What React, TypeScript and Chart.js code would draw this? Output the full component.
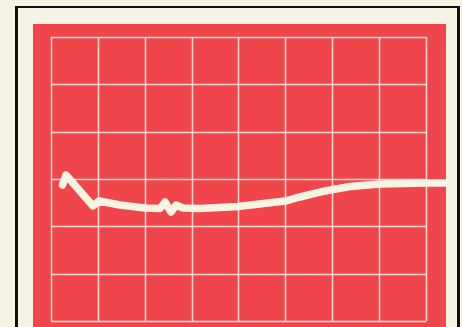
import React, { useEffect, useRef } from "react";
import { Chart, registerables } from "chart.js";

Chart.register(...registerables);

// Trace samples (x in grid divisions, y in grid divisions from bottom)
const traceX = [0.245, 0.32, 0.896, 1.024, 1.472, 2.005, 2.325, 2.432, 2.56, 2.667, 2.816, 3.179, 3.989, 4.992, 5.312, 5.845, 6.379, 7.019, 8.0, 8.427];
const traceY = [2.873, 3.085, 2.43, 2.535, 2.451, 2.387, 2.377, 2.514, 2.303, 2.451, 2.387, 2.377, 2.419, 2.535, 2.62, 2.747, 2.842, 2.895, 2.916, 2.916];

// Graticule: 8 horizontal divisions, 6 vertical divisions
const xDivisions = [0, 1, 2, 3, 4, 5, 6, 7, 8];
const yDivisions = [0, 1, 2, 3, 4, 5, 6];

// Visible screen extent (in divisions)
const xRange = [-0.384, 8.427];
const yRange = [-0.127, 6.275];

const RED = "#f0464b";
const CREAM = "#f6f3e4";
const GRID = "rgba(250,232,222,0.92)";

const screenBg = {
  id: "screenBg",
  beforeDraw(chart: any) {
    const { ctx, chartArea } = chart;
    ctx.save();
    ctx.fillStyle = RED;
    ctx.fillRect(chartArea.left, chartArea.top, chartArea.right - chartArea.left, chartArea.bottom - chartArea.top + 10);
    ctx.restore();
  },
  beforeDatasetsDraw(chart: any) {
    const { ctx } = chart;
    const xs = chart.scales.x;
    const ys = chart.scales.y;
    const x0 = xs.getPixelForValue(xDivisions[0]);
    const x1 = xs.getPixelForValue(xDivisions[xDivisions.length - 1]);
    const y0 = ys.getPixelForValue(yDivisions[0]);
    const y1 = ys.getPixelForValue(yDivisions[yDivisions.length - 1]);
    ctx.save();
    ctx.strokeStyle = GRID;
    ctx.lineWidth = 1.5;
    ctx.beginPath();
    xDivisions.forEach((v) => {
      const p = Math.round(xs.getPixelForValue(v)) + 0.5;
      ctx.moveTo(p, y1);
      ctx.lineTo(p, y0);
    });
    yDivisions.forEach((v) => {
      const p = Math.round(ys.getPixelForValue(v)) + 0.5;
      ctx.moveTo(x0, p);
      ctx.lineTo(x1, p);
    });
    ctx.stroke();
    ctx.restore();
  },
};

export default function App() {
  const ref = useRef<HTMLCanvasElement | null>(null);
  useEffect(() => {
    if (!ref.current) return;
    const chart = new Chart(ref.current, {
      type: "line",
      data: {
        datasets: [
          {
            data: traceX.map((x, i) => ({ x, y: traceY[i] })),
            borderColor: "#f8f4e3",
            borderWidth: 7.5,
            pointRadius: 0,
            tension: 0,
            borderJoinStyle: "round",
            borderCapStyle: "round",
          },
        ],
      },
      options: {
        animation: false,
        responsive: false,
        events: [],
        layout: { padding: { left: 33, top: 24, right: 16, bottom: 0 } },
        plugins: { legend: { display: false }, tooltip: { enabled: false } },
        scales: {
          x: {
            type: "linear",
            min: xRange[0],
            max: xRange[1],
            ticks: { display: false },
            grid: { display: false, drawTicks: false },
            border: { display: false },
          },
          y: {
            type: "linear",
            min: yRange[0],
            max: yRange[1],
            ticks: { display: false },
            grid: { display: false, drawTicks: false },
            border: { display: false },
          },
        },
      },
      plugins: [screenBg],
    });
    return () => chart.destroy();
  }, []);

  return (
    <div style={{ position: "fixed", left: 0, top: 0, width: 462, height: 327, background: CREAM, overflow: "hidden" }}>
      <div
        style={{
          position: "absolute",
          left: 15,
          top: 6,
          width: 445,
          height: 340,
          boxSizing: "border-box",
          borderLeft: "3px solid #111",
          borderTop: "2px solid #111",
          borderRight: "3px solid #111",
          background: CREAM,
        }}
      />
      <canvas ref={ref} width={462} height={327} style={{ position: "absolute", left: 0, top: 0, display: "block" }} />
    </div>
  );
}
